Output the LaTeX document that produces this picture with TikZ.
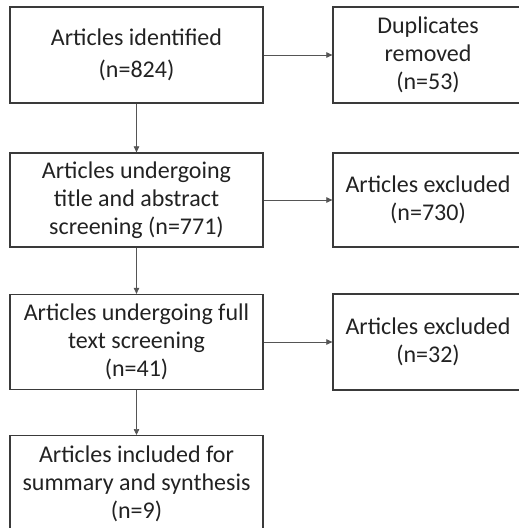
\documentclass[tikz,border=0pt]{standalone}
\usepackage{fontspec}
\setmainfont{Carlito}
\usetikzlibrary{arrows.meta}
\definecolor{boxgray}{HTML}{3A3A3A}
\definecolor{linegray}{HTML}{555555}
\definecolor{txtgray}{HTML}{222222}
\begin{document}
\begin{tikzpicture}[x=1pt,y=-1pt,
  box/.style={draw=boxgray,line width=1.3pt,minimum width=253pt,minimum height=95pt,align=center,inner sep=0pt,font=\fontsize{24}{28}\selectfont,text=txtgray},
  rbox/.style={box,minimum width=190pt},
  conn/.style={draw=linegray,line width=0.7pt,-{Triangle[length=6pt,width=5.5pt]}}]
\useasboundingbox (0,0) rectangle (519,528);
\clip (0,0) rectangle (519,528);
\node[box,minimum height=96pt,font=\fontsize{24}{32}\selectfont] (a) at (136.5,55) {Articles identified\\(n=824)};
\node[box,minimum height=94pt] (b) at (136.5,200) {Articles undergoing\\title and abstract\\screening (n=771)};
\node[box] (c) at (136.5,342) {Articles undergoing full\\text screening\\(n=41)};
\node[box,minimum height=96pt,anchor=north] (d) at (136.5,435) {Articles included for\\summary and synthesis\\(n=9)};
\node[rbox,minimum height=96pt] (r1) at (428,55) {Duplicates\\removed\\(n=53)};
\node[rbox,minimum height=94pt] (r2) at (428,200) {Articles excluded\\(n=730)};
\node[rbox,minimum height=96pt] (r3) at (428,342) {Articles excluded\\(n=32)};
\draw[conn] (a) -- (b);
\draw[conn] (b) -- (c);
\draw[conn] (c) -- (d);
\draw[conn] (a) -- (r1);
\draw[conn] (b) -- (r2);
\draw[conn] (c) -- (r3);
\end{tikzpicture}
\end{document}
